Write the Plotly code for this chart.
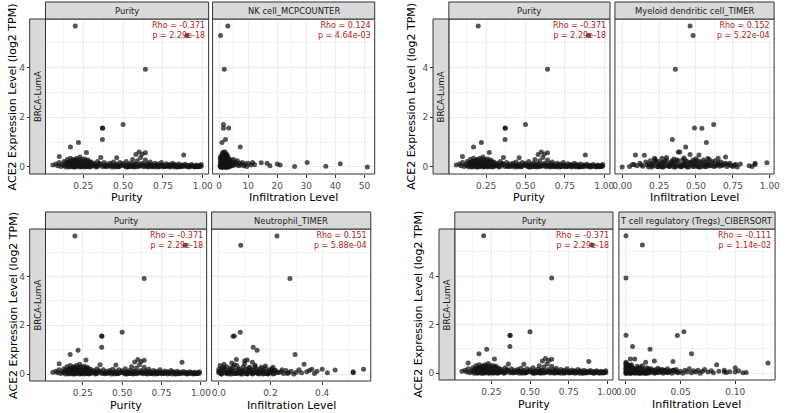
import plotly.graph_objects as go

# ---------------- data ----------------
y_title = "ACE2 Expression Level (log2 TPM)"
cancer_label = "BRCA-LumA"
purity_title = "Purity"
infil_title = "Infiltration Level"
purity_rho = "-0.371"
purity_p = "2.29e-18"

# Purity vs ACE2 (same in every block)
purity_x = [0.20, 0.90, 0.64, 0.50, 0.37, 0.372, 0.37, 0.22, 0.17, 0.27, 0.60, 0.64, 0.62, 0.58, 0.88, 0.36, 0.10, 0.46,
            0.06, 0.08, 0.09, 0.10, 0.11, 0.12, 0.13, 0.13, 0.14, 0.15, 0.15, 0.16, 0.16, 0.17, 0.17, 0.18, 0.18,
            0.19, 0.19, 0.19, 0.20, 0.20, 0.21, 0.21, 0.22, 0.22, 0.23, 0.23, 0.24, 0.24, 0.25, 0.25, 0.26, 0.26,
            0.27, 0.28, 0.28, 0.29, 0.30, 0.30, 0.31, 0.32, 0.33, 0.34, 0.35, 0.36, 0.37, 0.38, 0.39, 0.40, 0.41,
            0.42, 0.43, 0.44, 0.45, 0.46, 0.47, 0.48, 0.49, 0.50, 0.51, 0.52, 0.53, 0.54, 0.55, 0.56, 0.56, 0.57,
            0.58, 0.59, 0.60, 0.61, 0.61, 0.62, 0.63, 0.64, 0.65, 0.65, 0.66, 0.67, 0.68, 0.69, 0.70, 0.71, 0.72,
            0.73, 0.74, 0.75, 0.76, 0.77, 0.78, 0.79, 0.80, 0.81, 0.82, 0.83, 0.84, 0.85, 0.86, 0.87, 0.88, 0.89,
            0.90, 0.91, 0.92, 0.93, 0.94, 0.95, 0.96, 0.97, 0.98, 0.99, 0.99,
            0.14, 0.16, 0.18, 0.20, 0.21, 0.23, 0.24, 0.26, 0.27, 0.29, 0.45, 0.47, 0.52, 0.55, 0.57, 0.63, 0.66,
            0.68, 0.72, 0.75, 0.79, 0.82, 0.86, 0.91, 0.95, 0.97, 0.33, 0.39, 0.43, 0.53, 0.59, 0.70, 0.77, 0.84,
            0.15, 0.16, 0.17, 0.18, 0.19, 0.20, 0.21, 0.22, 0.23, 0.24, 0.25, 0.26, 0.27, 0.28, 0.29, 0.31, 0.32,
            0.34, 0.35, 0.38, 0.40, 0.42, 0.44, 0.46, 0.48, 0.50, 0.52, 0.54, 0.56, 0.58, 0.60, 0.62, 0.64, 0.66,
            0.68, 0.70, 0.72, 0.74, 0.76, 0.78, 0.80, 0.82, 0.84, 0.86, 0.88, 0.90, 0.92, 0.94, 0.96, 0.98]
purity_y = [5.66, 5.28, 3.92, 1.71, 1.56, 1.55, 1.10, 0.98, 0.80, 0.58, 0.60, 0.57, 0.52, 0.50, 0.48, 0.38, 0.42, 0.37,
            0.08, 0.12, 0.05, 0.18, 0.02, 0.10, 0.22, 0.05, 0.15, 0.30, 0.08, 0.20, 0.02, 0.35, 0.12, 0.25, 0.05,
            0.30, 0.15, 0.00, 0.22, 0.10, 0.35, 0.04, 0.18, 0.28, 0.08, 0.40, 0.15, 0.02, 0.25, 0.10, 0.32, 0.05,
            0.18, 0.08, 0.28, 0.12, 0.02, 0.20, 0.10, 0.15, 0.05, 0.22, 0.08, 0.12, 0.02, 0.18, 0.06, 0.12, 0.03,
            0.15, 0.08, 0.20, 0.05, 0.12, 0.02, 0.18, 0.08, 0.14, 0.04, 0.22, 0.10, 0.02, 0.16, 0.30, 0.07, 0.12,
            0.03, 0.25, 0.10, 0.38, 0.04, 0.15, 0.08, 0.28, 0.02, 0.14, 0.06, 0.20, 0.10, 0.03, 0.15, 0.07, 0.12,
            0.02, 0.18, 0.08, 0.04, 0.13, 0.06, 0.10, 0.02, 0.15, 0.05, 0.09, 0.01, 0.12, 0.05, 0.08, 0.02, 0.11,
            0.04, 0.07, 0.01, 0.10, 0.05, 0.03, 0.08, 0.02, 0.06, 0.10, 0.03,
            0.00, 0.00, 0.01, 0.00, 0.02, 0.00, 0.01, 0.00, 0.02, 0.00, 0.00, 0.01, 0.00, 0.02, 0.00, 0.01, 0.00,
            0.02, 0.00, 0.01, 0.00, 0.00, 0.01, 0.00, 0.00, 0.01, 0.00, 0.01, 0.00, 0.00, 0.01, 0.00, 0.02, 0.00,
            0.18, 0.12, 0.22, 0.15, 0.08, 0.28, 0.18, 0.08, 0.22, 0.30, 0.05, 0.15, 0.25, 0.02, 0.20, 0.05, 0.08,
            0.02, 0.14, 0.05, 0.03, 0.08, 0.04, 0.06, 0.03, 0.07, 0.04, 0.09, 0.02, 0.12, 0.04, 0.08, 0.05, 0.10,
            0.03, 0.06, 0.04, 0.08, 0.02, 0.07, 0.05, 0.09, 0.04, 0.02, 0.06, 0.03, 0.05, 0.02, 0.04, 0.02]

# NK cell_MCPCOUNTER
nk_x = [3.0, 0.5, 1.8, 1.5, 3.3, 1.5, 2.2, 1.0, 7.3,
        0.3, 0.4, 0.5, 0.5, 0.6, 0.7, 0.8, 0.9, 0.9, 1.0, 1.1, 1.1, 1.2, 1.3, 1.3, 1.4, 1.5, 1.5, 1.6, 1.7, 1.7,
        1.8, 1.8, 1.9, 2.0, 2.0, 2.1, 2.2, 2.2, 2.3, 2.4, 2.5, 2.6, 2.7, 2.8, 2.9, 3.0, 3.1, 3.2, 3.3, 3.5, 3.6,
        3.8, 4.0, 4.2, 4.5, 4.8, 5.0, 5.3, 5.6, 6.0, 6.3, 6.7, 7.0, 7.5, 8.0, 8.5, 9.0, 9.5, 10.0, 11.0, 11.5, 12.2,
        14.5, 16.5, 17.5, 20.0, 21.0, 26.0, 30.3, 36.7, 41.7, 51.0,
        0.6, 0.8, 1.0, 1.2, 1.4, 1.6, 1.9, 2.1, 2.3, 2.5, 2.7, 2.9, 3.1, 3.4, 0.7, 1.3, 1.7, 2.4, 2.8, 3.2,
        0.4, 0.6, 0.8, 1.0, 1.2, 1.4, 1.6, 1.8, 2.0, 2.2, 2.4, 2.6, 2.8, 3.0, 3.2, 3.4, 0.9, 1.1, 1.5, 1.9,
        2.3, 2.7, 3.1, 3.5, 3.9, 4.3, 4.7, 1.7, 2.1, 2.5]
nk_y = [5.66, 5.28, 3.92, 1.71, 1.56, 1.55, 1.10, 0.98, 0.80,
        0.05, 0.20, 0.40, 0.10, 0.00, 0.30, 0.15, 0.45, 0.05, 0.25, 0.00, 0.35, 0.10, 0.50, 0.20, 0.02, 0.30, 0.08,
        0.40, 0.15, 0.00, 0.55, 0.25, 0.05, 0.35, 0.12, 0.60, 0.20, 0.00, 0.45, 0.10, 0.30, 0.03, 0.50, 0.18, 0.00,
        0.25, 0.40, 0.08, 0.15, 0.30, 0.02, 0.20, 0.10, 0.28, 0.05, 0.18, 0.30, 0.08, 0.20, 0.12, 0.25, 0.05, 0.15,
        0.08, 0.18, 0.05, 0.12, 0.02, 0.15, 0.08, 0.18, 0.10,
        0.17, 0.15, 0.05, 0.12, 0.08, 0.02, 0.18, 0.03, 0.13, 0.00,
        0.00, 0.02, 0.00, 0.01, 0.00, 0.03, 0.00, 0.02, 0.00, 0.01, 0.00, 0.02, 0.00, 0.01, 0.12, 0.22, 0.32, 0.28, 0.38, 0.22,
        0.35, 0.25, 0.40, 0.10, 0.30, 0.45, 0.20, 0.10, 0.50, 0.35, 0.25, 0.45, 0.05, 0.15, 0.30, 0.05, 0.20, 0.55,
        0.60, 0.40, 0.15, 0.25, 0.10, 0.18, 0.05, 0.12, 0.08, 0.30, 0.22, 0.08]

# Myeloid dendritic cell_TIMER
mdc_x = [0.46, 0.48, 0.36, 0.62, 0.49, 0.54, 0.34, 0.57, 0.43, 0.38, 0.39, 0.46, 0.52, 0.09, 0.15, 0.70, 0.65,
         0.86, 0.88, 0.90, 0.90, 0.98, 0.00, 0.05, 0.07,
         0.08, 0.10, 0.12, 0.14, 0.16, 0.17, 0.18, 0.19, 0.20, 0.21, 0.22, 0.23, 0.24, 0.25, 0.26, 0.27, 0.27, 0.28,
         0.29, 0.30, 0.31, 0.32, 0.33, 0.34, 0.35, 0.35, 0.36, 0.37, 0.38, 0.39, 0.40, 0.41, 0.42, 0.43, 0.44, 0.45,
         0.46, 0.47, 0.48, 0.49, 0.50, 0.51, 0.52, 0.53, 0.54, 0.55, 0.56, 0.57, 0.58, 0.59, 0.60, 0.61, 0.62, 0.63,
         0.64, 0.65, 0.66, 0.67, 0.68, 0.70, 0.71, 0.72, 0.74, 0.76, 0.78, 0.80,
         0.20, 0.24, 0.28, 0.32, 0.36, 0.40, 0.44, 0.48, 0.52, 0.56, 0.22, 0.30, 0.42, 0.50, 0.58,
         0.21, 0.23, 0.25, 0.27, 0.29, 0.31, 0.33, 0.35, 0.37, 0.39, 0.41, 0.43, 0.45, 0.47, 0.49, 0.51, 0.53,
         0.55, 0.57, 0.59, 0.61, 0.63, 0.65, 0.67, 0.69, 0.73, 0.75, 0.77, 0.26, 0.34, 0.42, 0.50, 0.58, 0.18, 0.13]
mdc_y = [5.66, 5.28, 3.92, 1.71, 1.56, 1.55, 1.10, 0.98, 0.80, 0.60, 0.60, 0.50, 0.48, 0.48, 0.47, 0.40, 0.35,
         0.05, 0.02, 0.15, 0.10, 0.17, 0.00, 0.02, 0.10,
         0.10, 0.05, 0.15, 0.03, 0.20, 0.08, 0.00, 0.25, 0.12, 0.04, 0.30, 0.15, 0.02, 0.22, 0.08, 0.35, 0.00, 0.18,
         0.05, 0.28, 0.12, 0.02, 0.20, 0.08, 0.32, 0.00, 0.15, 0.05, 0.25, 0.10, 0.02, 0.30, 0.14, 0.06, 0.22, 0.00,
         0.18, 0.08, 0.28, 0.03, 0.15, 0.06, 0.24, 0.00, 0.12, 0.05, 0.20, 0.02, 0.10, 0.30, 0.05, 0.15, 0.02, 0.25,
         0.08, 0.12, 0.03, 0.20, 0.06, 0.15, 0.02, 0.10, 0.05, 0.08, 0.00, 0.12,
         0.00, 0.01, 0.00, 0.02, 0.00, 0.01, 0.00, 0.02, 0.00, 0.01, 0.35, 0.38, 0.36, 0.33, 0.34,
         0.15, 0.25, 0.08, 0.18, 0.22, 0.05, 0.12, 0.18, 0.28, 0.03, 0.12, 0.25, 0.10, 0.20, 0.15, 0.02, 0.18,
         0.28, 0.10, 0.05, 0.22, 0.04, 0.18, 0.08, 0.12, 0.15, 0.02, 0.10, 0.02, 0.25, 0.05, 0.25, 0.18, 0.12, 0.08]

# Neutrophil_TIMER
neu_x = [0.225, 0.085, 0.275, 0.083, 0.060, 0.055, 0.133, 0.148, 0.295, 0.068, 0.100, 0.110, 0.130, 0.050,
         0.330, 0.360, 0.400, 0.420, 0.450, 0.520, 0.520, 0.560,
         0.000, 0.000, 0.005, 0.010, 0.015, 0.020, 0.025, 0.030, 0.035, 0.040, 0.045, 0.050, 0.055, 0.060, 0.065,
         0.070, 0.075, 0.080, 0.085, 0.090, 0.095, 0.100, 0.105, 0.110, 0.115, 0.120, 0.125, 0.130, 0.135, 0.140,
         0.145, 0.150, 0.155, 0.160, 0.165, 0.170, 0.175, 0.180, 0.185, 0.190, 0.195, 0.200, 0.205, 0.210, 0.215,
         0.220, 0.230, 0.240, 0.250, 0.260, 0.270, 0.280, 0.290, 0.300, 0.310, 0.320, 0.340, 0.350, 0.370, 0.380,
         0.010, 0.030, 0.050, 0.070, 0.090, 0.110, 0.130, 0.150, 0.170, 0.190, 0.210, 0.020, 0.060, 0.100, 0.140, 0.180,
         0.005, 0.015, 0.025, 0.035, 0.045, 0.055, 0.065, 0.075, 0.085, 0.095, 0.105, 0.115, 0.125, 0.135, 0.145,
         0.155, 0.165, 0.175, 0.185, 0.195, 0.205, 0.215, 0.000, 0.010, 0.040, 0.080, 0.120, 0.160, 0.200, 0.225,
         0.245, 0.265]
neu_y = [5.66, 5.28, 3.92, 1.71, 1.56, 1.55, 1.10, 0.98, 0.80, 0.60, 0.55, 0.58, 0.48, 0.45,
         0.40, 0.20, 0.20, 0.05, 0.17, 0.10, 0.05, 0.20,
         0.05, 0.20, 0.35, 0.00, 0.12, 0.25, 0.05, 0.30, 0.10, 0.00, 0.18, 0.08, 0.28, 0.02, 0.15,
         0.35, 0.05, 0.22, 0.00, 0.12, 0.30, 0.05, 0.20, 0.00, 0.15, 0.28, 0.08, 0.02, 0.18, 0.30,
         0.05, 0.12, 0.00, 0.22, 0.08, 0.15, 0.02, 0.25, 0.10, 0.00, 0.18, 0.05, 0.12, 0.28, 0.02,
         0.15, 0.05, 0.10, 0.02, 0.15, 0.06, 0.12, 0.00, 0.08, 0.18, 0.05, 0.10, 0.15, 0.02, 0.12,
         0.00, 0.01, 0.00, 0.02, 0.00, 0.01, 0.00, 0.02, 0.00, 0.01, 0.00, 0.40, 0.38, 0.42, 0.36, 0.33,
         0.10, 0.28, 0.18, 0.05, 0.25, 0.12, 0.02, 0.20, 0.10, 0.15, 0.02, 0.25, 0.18, 0.05, 0.22,
         0.10, 0.28, 0.12, 0.02, 0.08, 0.22, 0.15, 0.12, 0.20, 0.12, 0.05, 0.12, 0.05, 0.15, 0.08,
         0.18, 0.02]

# T cell regulatory (Tregs)_CIBERSORT
treg_x = [0.000, 0.015, 0.000, 0.053, 0.000, 0.047, 0.006, 0.022, 0.060, 0.004, 0.008, 0.026, 0.043, 0.018,
          0.083, 0.130, 0.100, 0.107, 0.110, 0.090,
          0.000, 0.000, 0.000, 0.000, 0.000, 0.001, 0.002, 0.003, 0.004, 0.005, 0.006, 0.007, 0.008, 0.009, 0.010,
          0.011, 0.012, 0.013, 0.014, 0.015, 0.016, 0.017, 0.018, 0.019, 0.020, 0.021, 0.022, 0.023, 0.024, 0.025,
          0.026, 0.027, 0.028, 0.029, 0.030, 0.031, 0.032, 0.033, 0.034, 0.035, 0.036, 0.037, 0.038, 0.039, 0.040,
          0.042, 0.044, 0.045, 0.046, 0.048, 0.050, 0.052, 0.054, 0.056, 0.058, 0.060, 0.062, 0.064, 0.066, 0.068,
          0.070, 0.072, 0.075, 0.078, 0.080, 0.085, 0.090, 0.092, 0.095, 0.100, 0.103,
          0.000, 0.002, 0.004, 0.006, 0.008, 0.010, 0.012, 0.014, 0.016, 0.018, 0.020, 0.000, 0.001, 0.003, 0.005,
          0.000, 0.000, 0.000, 0.000, 0.001, 0.002, 0.003, 0.004, 0.005, 0.006, 0.007, 0.008, 0.009, 0.010, 0.011,
          0.012, 0.013, 0.014, 0.015, 0.017, 0.019, 0.021, 0.023, 0.025, 0.027, 0.029, 0.031, 0.033, 0.035, 0.038,
          0.041, 0.043, 0.047]
treg_y = [5.66, 5.28, 3.92, 1.71, 1.56, 1.55, 1.10, 0.98, 0.80, 0.58, 0.58, 0.50, 0.48, 0.45,
          0.35, 0.42, 0.22, 0.02, 0.03, 0.05,
          0.00, 0.10, 0.20, 0.30, 0.45, 0.05, 0.15, 0.25, 0.00, 0.35, 0.08, 0.18, 0.02, 0.12, 0.28,
          0.05, 0.20, 0.00, 0.10, 0.30, 0.04, 0.15, 0.00, 0.22, 0.08, 0.12, 0.02, 0.18, 0.06, 0.10,
          0.00, 0.14, 0.05, 0.20, 0.02, 0.10, 0.06, 0.15, 0.00, 0.08, 0.12, 0.03, 0.18, 0.05, 0.10,
          0.00, 0.12, 0.05, 0.15, 0.02, 0.08, 0.00, 0.12, 0.05, 0.18, 0.02, 0.10, 0.05, 0.12, 0.00,
          0.08, 0.15, 0.05, 0.10, 0.02, 0.08, 0.12, 0.03, 0.06, 0.05, 0.10,
          0.00, 0.01, 0.00, 0.02, 0.00, 0.01, 0.00, 0.02, 0.00, 0.01, 0.00, 0.40, 0.38, 0.32, 0.26,
          0.05, 0.15, 0.25, 0.38, 0.20, 0.08, 0.12, 0.30, 0.02, 0.22, 0.10, 0.15, 0.05, 0.18, 0.12,
          0.02, 0.25, 0.05, 0.15, 0.08, 0.03, 0.18, 0.05, 0.12, 0.02, 0.08, 0.15, 0.05, 0.12, 0.02,
          0.08, 0.12, 0.05]

cell_names = ["NK cell_MCPCOUNTER", "Myeloid dendritic cell_TIMER",
              "Neutrophil_TIMER", "T cell regulatory (Tregs)_CIBERSORT"]
cell_x = [nk_x, mdc_x, neu_x, treg_x]
cell_y = [nk_y, mdc_y, neu_y, treg_y]
cell_rho = ["0.124", "0.152", "0.151", "-0.111"]
cell_p = ["4.64e-03", "5.22e-04", "5.88e-04", "1.14e-02"]
cell_dtick = [10, 0.25, 0.2, 0.05]
cell_fmt = ["d", ".2f", ".1f", ".2f"]

# ---------------- layout geometry (pixels) ----------------
W, H = 789, 413
# f1x0, f1x1, f2x0, f2x1, top, bottom, rowstrip_x0, ytitle_x, xtitle_y
blocks = [
    (43, 208, 212, 376, 19, 174, 27, 10, 197),
    (451, 614, 619, 780, 19, 174, 435, 413, 197),
    (43, 206, 211, 372, 229, 381, 27, 10, 405),
    (457, 617, 623, 781, 229, 380, 441, 420, 404),
]
STRIP_H = 17

FONT = "DejaVu Sans"
GRID = "#EBEBEB"
EDGE = "#333333"
TICKC = "#4D4D4D"
RED = "#B22222"
PT = "rgba(20,20,20,0.72)"


def padded(vals):
    lo, hi = min(vals), max(vals)
    d = (hi - lo) * 0.05
    return [lo - d, hi + d]


def fx(p):
    return p / W


def fy(p):
    return 1 - p / H


fig = go.Figure()
shapes = []
annotations = []
layout_axes = {}

for k, (f1a, f1b, f2a, f2b, top, bot, rsx, ytx, xty) in enumerate(blocks):
    facets = [
        (f1a, f1b, purity_x, purity_y, purity_title, purity_rho, purity_p, 0.25, ".2f", purity_title),
        (f2a, f2b, cell_x[k], cell_y[k], cell_names[k], cell_rho[k], cell_p[k], cell_dtick[k], cell_fmt[k], infil_title),
    ]
    yr = padded(purity_y + cell_y[k])
    for j, (xa, xb, xs, ys, strip, rho, pv, dt, fmt, xtitle) in enumerate(facets):
        n = 2 * k + j + 1
        xn = "x" if n == 1 else f"x{n}"
        yn = "y" if n == 1 else f"y{n}"
        fig.add_trace(go.Scatter(
            x=xs, y=ys, mode="markers", xaxis=xn, yaxis=yn, showlegend=False,
            marker=dict(size=5, color=PT, line=dict(width=0)), hoverinfo="x+y"))
        xkey = "xaxis" if n == 1 else f"xaxis{n}"
        ykey = "yaxis" if n == 1 else f"yaxis{n}"
        layout_axes[xkey] = dict(
            domain=[fx(xa), fx(xb)], range=padded(xs), anchor=yn,
            dtick=dt, tick0=0, tickformat=fmt,
            showgrid=True, gridcolor=GRID, gridwidth=1, zeroline=False,
            minor=dict(showgrid=True, gridcolor="#F3F3F3", gridwidth=0.6, dtick=dt / 2),
            ticks="outside", ticklen=3, tickcolor=EDGE, tickwidth=1,
            tickfont=dict(family=FONT, size=9, color=TICKC), showline=False)
        ydict = dict(
            domain=[fy(bot), fy(top)], range=yr, dtick=2, tick0=0,
            showgrid=True, gridcolor=GRID, gridwidth=1, zeroline=False,
            minor=dict(showgrid=True, gridcolor="#F3F3F3", gridwidth=0.6, dtick=1),
            showline=False)
        if j == 0:
            ydict.update(anchor="free", position=fx(rsx),
                         ticks="outside", ticklen=3, tickcolor=EDGE, tickwidth=1,
                         tickfont=dict(family=FONT, size=9, color=TICKC), showticklabels=True)
        else:
            ydict.update(anchor=xn, ticks="", showticklabels=False)
        layout_axes[ykey] = ydict

        # panel border
        shapes.append(dict(type="rect", xref="paper", yref="paper",
                           x0=fx(xa), x1=fx(xb), y0=fy(bot), y1=fy(top),
                           line=dict(color=EDGE, width=1), fillcolor="rgba(0,0,0,0)", layer="above"))
        # top strip
        shapes.append(dict(type="rect", xref="paper", yref="paper",
                           x0=fx(xa), x1=fx(xb), y0=fy(top), y1=fy(top - STRIP_H),
                           line=dict(color=EDGE, width=1), fillcolor="#D9D9D9", layer="above"))
        annotations.append(dict(text=strip, xref="paper", yref="paper",
                                x=fx((xa + xb) / 2), y=fy(top - STRIP_H / 2),
                                xanchor="center", yanchor="middle", showarrow=False,
                                font=dict(family=FONT, size=8.4, color="#1A1A1A")))
        # stats text
        annotations.append(dict(text=f"Rho = {rho}<br>p = {pv}", xref=f"{xn} domain", yref=f"{yn} domain",
                                x=1, y=1, xanchor="right", yanchor="top", align="right", showarrow=False,
                                xshift=-2, yshift=0, font=dict(family=FONT, size=8, color=RED)))
        # x title
        annotations.append(dict(text=xtitle, xref="paper", yref="paper",
                                x=fx((xa + xb) / 2), y=fy(xty), xanchor="center", yanchor="middle",
                                showarrow=False, font=dict(family=FONT, size=11, color="#000000")))
    # row strip
    shapes.append(dict(type="rect", xref="paper", yref="paper",
                       x0=fx(rsx), x1=fx(f1a), y0=fy(bot), y1=fy(top),
                       line=dict(color=EDGE, width=1), fillcolor="#D9D9D9", layer="above"))
    annotations.append(dict(text=cancer_label, xref="paper", yref="paper",
                            x=fx((rsx + f1a) / 2), y=fy((top + bot) / 2), textangle=-90,
                            xanchor="center", yanchor="middle", showarrow=False,
                            font=dict(family=FONT, size=8.7, color="#1A1A1A")))
    # y title
    annotations.append(dict(text=y_title, xref="paper", yref="paper",
                            x=fx(ytx), y=fy((top + bot) / 2), textangle=-90,
                            xanchor="center", yanchor="middle", showarrow=False,
                            font=dict(family=FONT, size=11, color="#000000")))

fig.update_layout(
    width=W, height=H, margin=dict(l=0, r=0, t=0, b=0),
    paper_bgcolor="white", plot_bgcolor="white",
    font=dict(family=FONT), shapes=shapes, annotations=annotations,
    **layout_axes)

fig.write_html("out.html", config={"displayModeBar": False},
               post_script="document.body.style.margin='0px';document.body.style.overflow='hidden';")
